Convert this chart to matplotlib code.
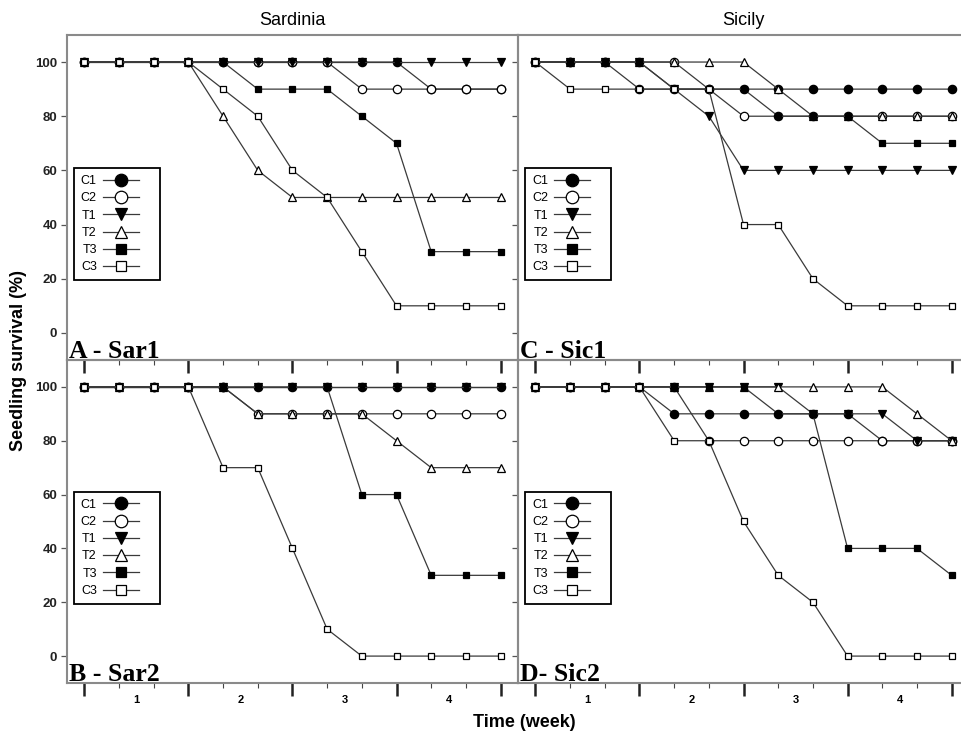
import matplotlib
matplotlib.use('Agg')
import matplotlib.pyplot as plt

plt.rcParams['font.family'] = ['Liberation Sans', 'DejaVu Sans']

# 13 observations over 4 weeks
time_points = [0, 1, 2, 3, 4, 5, 6, 7, 8, 9, 10, 11, 12]
week_labels = ['1', '2', '3', '4']
week_label_pos = [1.5, 4.5, 7.5, 10.5]
y_ticks = [0, 20, 40, 60, 80, 100]
series_names = ['C1', 'C2', 'T1', 'T2', 'T3', 'C3']

# A - Sar1
sar1_C1 = [100, 100, 100, 100, 100, 100, 100, 100, 100, 100, 90, 90, 90]
sar1_C2 = [100, 100, 100, 100, 100, 100, 100, 100, 90, 90, 90, 90, 90]
sar1_T1 = [100, 100, 100, 100, 100, 100, 100, 100, 100, 100, 100, 100, 100]
sar1_T2 = [100, 100, 100, 100, 80, 60, 50, 50, 50, 50, 50, 50, 50]
sar1_T3 = [100, 100, 100, 100, 100, 90, 90, 90, 80, 70, 30, 30, 30]
sar1_C3 = [100, 100, 100, 100, 90, 80, 60, 50, 30, 10, 10, 10, 10]

# B - Sar2
sar2_C1 = [100, 100, 100, 100, 100, 100, 100, 100, 100, 100, 100, 100, 100]
sar2_C2 = [100, 100, 100, 100, 100, 90, 90, 90, 90, 90, 90, 90, 90]
sar2_T1 = [100, 100, 100, 100, 100, 100, 100, 100, 100, 100, 100, 100, 100]
sar2_T2 = [100, 100, 100, 100, 100, 90, 90, 90, 90, 80, 70, 70, 70]
sar2_T3 = [100, 100, 100, 100, 100, 100, 100, 100, 60, 60, 30, 30, 30]
sar2_C3 = [100, 100, 100, 100, 70, 70, 40, 10, 0, 0, 0, 0, 0]

# C - Sic1
sic1_C1 = [100, 100, 100, 90, 90, 90, 90, 90, 90, 90, 90, 90, 90]
sic1_C2 = [100, 100, 100, 100, 100, 90, 80, 80, 80, 80, 80, 80, 80]
sic1_T1 = [100, 100, 100, 100, 90, 80, 60, 60, 60, 60, 60, 60, 60]
sic1_T2 = [100, 100, 100, 100, 100, 100, 100, 90, 80, 80, 80, 80, 80]
sic1_T3 = [100, 100, 100, 100, 90, 90, 90, 80, 80, 80, 70, 70, 70]
sic1_C3 = [100, 90, 90, 90, 90, 90, 40, 40, 20, 10, 10, 10, 10]

# D - Sic2
sic2_C1 = [100, 100, 100, 100, 90, 90, 90, 90, 90, 90, 80, 80, 80]
sic2_C2 = [100, 100, 100, 100, 100, 80, 80, 80, 80, 80, 80, 80, 80]
sic2_T1 = [100, 100, 100, 100, 100, 100, 100, 100, 90, 90, 90, 80, 80]
sic2_T2 = [100, 100, 100, 100, 100, 100, 100, 100, 100, 100, 100, 90, 80]
sic2_T3 = [100, 100, 100, 100, 100, 100, 100, 90, 90, 40, 40, 40, 30]
sic2_C3 = [100, 100, 100, 100, 80, 80, 50, 30, 20, 0, 0, 0, 0]

panels = [
    ('A - Sar1', [sar1_C1, sar1_C2, sar1_T1, sar1_T2, sar1_T3, sar1_C3]),
    ('B - Sar2', [sar2_C1, sar2_C2, sar2_T1, sar2_T2, sar2_T3, sar2_C3]),
    ('C - Sic1', [sic1_C1, sic1_C2, sic1_T1, sic1_T2, sic1_T3, sic1_C3]),
    ('D- Sic2', [sic2_C1, sic2_C2, sic2_T1, sic2_T2, sic2_T3, sic2_C3]),
]

# marker, face colour, size
styles = {
    'C1': ('o', 'black', 6),
    'C2': ('o', 'white', 6),
    'T1': ('v', 'black', 6),
    'T2': ('^', 'white', 6),
    'T3': ('s', 'black', 5),
    'C3': ('s', 'white', 5),
}

fig = plt.figure(figsize=(9.62, 7.36), dpi=100)

# left, bottom, width, height (figure fractions)
positions = [
    [0.0696, 0.5109, 0.4688, 0.4416],
    [0.0696, 0.0720, 0.4688, 0.4389],
    [0.5385, 0.5109, 0.4688, 0.4416],
    [0.5385, 0.0720, 0.4688, 0.4389],
]

axes = []
for p, (label, data) in enumerate(panels):
    ax = fig.add_axes(positions[p])
    ax.set_facecolor('none')
    for i, name in enumerate(series_names):
        m, fc, ms = styles[name]
        ax.plot(time_points, data[i], color='#3a3a3a', lw=0.9, marker=m,
                markersize=ms, markerfacecolor=fc, markeredgecolor='black',
                markeredgewidth=0.9, label=name, zorder=2 + i)
    ax.set_xlim(-0.5, 12.5)
    ax.set_ylim(-10, 110)
    ax.set_xticks([0, 3, 6, 9, 12])
    ax.set_xticks(time_points, minor=True)
    ax.set_xticklabels([])
    ax.set_yticks(y_ticks)
    ax.tick_params(axis='x', which='major', direction='out', length=9, width=1.8, color='#222222')
    ax.tick_params(axis='x', which='minor', direction='out', length=3.5, width=0.8, color='#444444')
    ax.tick_params(axis='y', direction='out', length=4, width=0.9, color='#555555',
                   labelsize=9.5, pad=3)
    if p < 2:
        for t in ax.get_yticklabels():
            t.set_fontweight('bold')
            t.set_color('#222222')
    else:
        ax.set_yticklabels([])
    if p in (1, 3):
        for x, w in zip(week_label_pos, week_labels):
            ax.text(x, -0.052, w, transform=ax.get_xaxis_transform(),
                    ha='center', va='center', fontsize=8, fontweight='bold')
    for s in ax.spines.values():
        s.set_color('#8a8a8a')
        s.set_linewidth(1.5)
    ax.text(0.004, 0.006, label, transform=ax.transAxes, ha='left', va='baseline',
            fontsize=18.5, fontweight='bold', family=['Liberation Serif', 'DejaVu Serif'])
    leg = ax.legend(loc='lower left', bbox_to_anchor=(0.0155, 0.245, 0.19, 0.345),
                    mode='expand', markerfirst=False,
                    fontsize=9, handlelength=2.9, handletextpad=0.5, labelspacing=0.42,
                    borderpad=0.55, markerscale=1.5, fancybox=False, framealpha=1,
                    borderaxespad=0)
    leg.get_frame().set_edgecolor('black')
    leg.get_frame().set_linewidth(1.3)
    axes.append(ax)

axes[0].set_title('Sardinia', fontsize=13, pad=7)
axes[2].set_title('Sicily', fontsize=13, pad=7)

fig.text(0.019, 0.51, 'Seedling survival (%)', rotation=90, ha='center', va='center',
         fontsize=13, fontweight='bold')
fig.text(0.545, 0.018, 'Time (week)', ha='center', va='center', fontsize=13, fontweight='bold')

fig.savefig('out.png', dpi=100)
